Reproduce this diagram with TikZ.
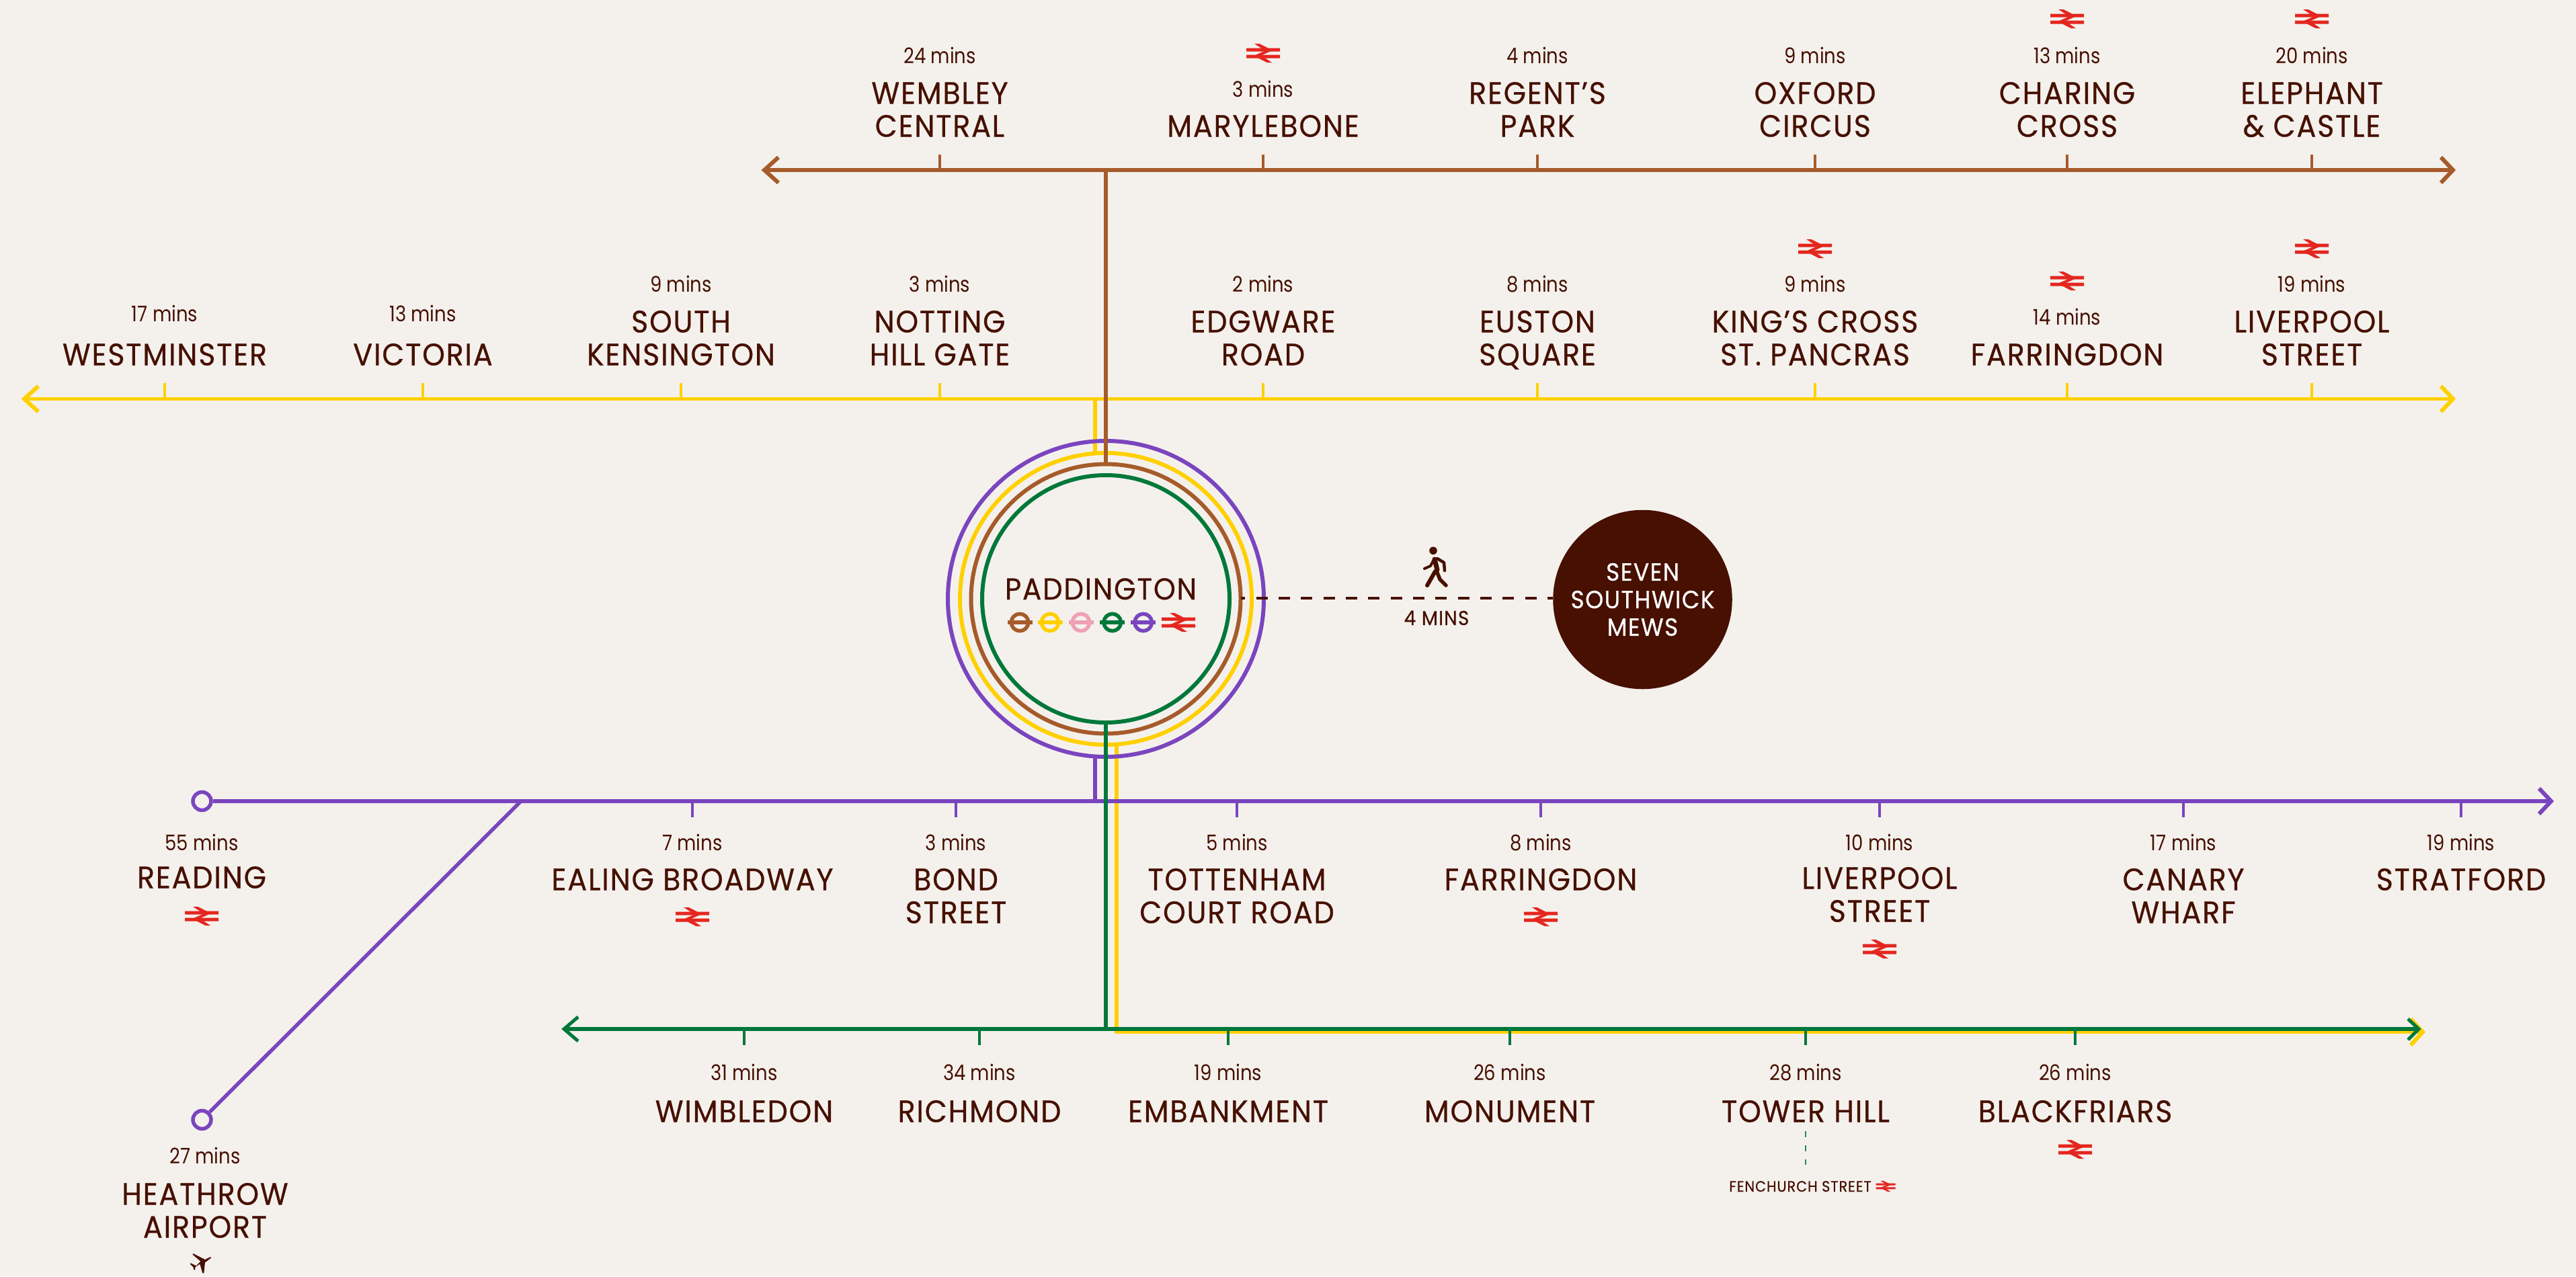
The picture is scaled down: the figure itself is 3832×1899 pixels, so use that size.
\documentclass[tikz,border=0pt]{standalone}
\usepackage{fontspec}
\setmainfont{Poppins}
\newfontfamily\namef{Poppins}[FakeStretch=0.93,LetterSpace=4,FakeBold=0.6]
\newfontfamily\minf{Poppins}[FakeStretch=0.86]
\definecolor{bgc}{HTML}{F4F1ED}
\definecolor{dk}{HTML}{471000}
\definecolor{brn}{HTML}{A65B2A}
\definecolor{ylw}{HTML}{FFD000}
\definecolor{pnk}{HTML}{EFA0B5}
\definecolor{grn}{HTML}{00783A}
\definecolor{prp}{HTML}{7A45BE}
\definecolor{rd}{HTML}{E4261F}
\tikzset{
 x=1pt,y=-1pt,
 lineS/.style={line width=5.5pt},
 tickS/.style={line width=4.5pt},
 headS/.style={line width=6pt,miter limit=10},
 ringS/.style={line width=6pt},
 nameS/.style={anchor=base,inner sep=0pt,text=dk,align=center,font=\namef\fontsize{46}{49}\selectfont},
 minS/.style={anchor=base,inner sep=0pt,text=dk,font=\minf\fontsize{32}{32}\selectfont},
 railpic/.pic={
  \fill[rd] (-25,-7.5) rectangle (25,-2.5) (-25,2.5) rectangle (25,7.5);
  \fill[rd] (-13,-14) -- (-5.5,-14) -- (14,-4) -- (-3,3.5) -- (13,14) -- (5.5,14) -- (-14,4) -- (3,-3.5) -- cycle;
 },
 roundel/.pic={
  \draw[#1,line width=5.5pt] (0,0) circle (12.7);
  \fill[#1] (-18.5,-2.8) rectangle (18.5,2.8);
 },
}
\newcommand\stn[6]{%
 \node[minS] (m#1) at (#2,#3+11) {#4};
 \node[nameS] (n#1) at (#2,#5+17.5) {#6};
}
\newcommand\stnn[6]{%
 \node[minS] (m#1) at (#2,#3+11) {#4};
 \node[nameS] (n#1) at (#2,#5+17.5+49) {#6};
}
\newcommand\rail[3]{\pic (r#1) at (#2,#3) {railpic};}
\newcommand\uptick[3]{\draw[tickS,#1] (#2,#3) -- ++(0,-23);}
\newcommand\dntick[3]{\draw[tickS,#1] (#2,#3) -- ++(0,24);}
\begin{document}
\begin{tikzpicture}
\useasboundingbox (0,0) rectangle (3832,1899);
\fill[bgc] (0,0) rectangle (3832,1899);
\coordinate (hub) at (1645,891);
% yellow line
\coordinate (yl) at (36,593.5); \coordinate (yr) at (3649,593.5);
\draw[lineS,ylw] (yl) -- (yr);
\draw[headS,ylw] (57,574.5) -- (yl) -- (57,612.5);
\draw[headS,ylw] (3631,574.5) -- (yr) -- (3631,612.5);
\draw[lineS,ylw] (1629,593.5) -- (1629,674);
\foreach \x in {245,629,1013,1398,1879,2287,2700,3075,3439} {\uptick{ylw}{\x}{593}}
% yellow lower line
\coordinate (yb) at (3604,1535.5);
\draw[lineS,ylw] (1661,1108) -- (1661,1535.5) -- (yb);
\draw[headS,ylw] (3586,1516) -- (yb) -- (3586,1555);
% rings
\draw[ringS,ylw] (hub) circle (217);
\draw[ringS,prp] (hub) circle (235);
\draw[lineS,prp] (1629,1127) -- (1629,1192);
% purple line
\node[circle,draw=prp,line width=5.5pt,fill=bgc,minimum size=27pt,inner sep=0pt] (reading) at (300.5,1192) {};
\node[circle,draw=prp,line width=5.5pt,fill=bgc,minimum size=27pt,inner sep=0pt] (heathrow) at (300.5,1666) {};
\coordinate (pr) at (3795,1192);
\coordinate (junc) at (775,1192);
\draw[lineS,prp] (reading) -- (pr);
\draw[lineS,prp] (heathrow) -- (junc);
\draw[headS,prp] (3777,1173) -- (pr) -- (3777,1211);
\foreach \x in {1030,1422,1840,2292,2796,3248,3661} {\dntick{prp}{\x}{1192}}
% brown
\coordinate (bl) at (1137,253); \coordinate (br) at (3649,253);
\draw[lineS,brn] (bl) -- (br);
\draw[headS,brn] (1158,234) -- (bl) -- (1158,272);
\draw[headS,brn] (3631,234) -- (br) -- (3631,272);
\foreach \x in {1398,1879,2287,2700,3075,3439} {\uptick{brn}{\x}{253}}
\draw[ringS,brn] (hub) circle (200.5);
\draw[lineS,brn] (1645,253) -- (1645,691);
% green
\coordinate (gl) at (839,1531); \coordinate (gr) at (3598,1531);
\draw[ringS,grn] (hub) circle (184);
\draw[lineS,grn] (1645,1075) -- (1645,1531);
\draw[lineS,grn] (gl) -- (gr);
\draw[headS,grn,line width=5pt] (860,1513) -- (gl) -- (860,1549);
\draw[headS,grn,line width=5pt] (3582,1516) -- (gr) -- (3582,1547);
\foreach \x in {1107,1457,1827,2246,2686,3087} {\dntick{grn}{\x}{1531}}
\draw[grn!85!white,line width=2.2pt,dash pattern=on 9pt off 12pt] (2686,1683) -- (2686,1733);
% top row
\stnn{wembley}{1398}{83}{24 mins}{137}{WEMBLEY\\CENTRAL}
\stn{maryl}{1879}{133}{3 mins}{186}{MARYLEBONE}
\rail{maryl}{1879}{79}
\stnn{regent}{2287}{83}{4 mins}{137}{REGENT’S\\PARK}
\stnn{oxford}{2700}{83}{9 mins}{137}{OXFORD\\CIRCUS}
\stnn{charing}{3075}{83}{13 mins}{137}{CHARING\\CROSS}
\rail{charing}{3075}{28}
\stnn{elephant}{3439}{83}{20 mins}{137}{ELEPHANT\\\& CASTLE}
\rail{elephant}{3439}{28}
% yellow row
\stn{westm}{245}{467}{17 mins}{526}{WESTMINSTER}
\stn{victoria}{629}{467}{13 mins}{526}{VICTORIA}
\stnn{southk}{1013}{423}{9 mins}{477}{SOUTH\\KENSINGTON}
\stnn{notting}{1398}{423}{3 mins}{477}{NOTTING\\HILL GATE}
\stnn{edgware}{1879}{423}{2 mins}{477}{EDGWARE\\ROAD}
\stnn{euston}{2287}{423}{8 mins}{477}{EUSTON\\SQUARE}
\stnn{kings}{2700}{423}{9 mins}{477}{KING’S CROSS\\ST. PANCRAS}
\rail{kings}{2700}{370}
\stn{farr}{3075}{472}{14 mins}{526}{FARRINGDON}
\rail{farr}{3075}{418}
\stnn{liv}{3439}{423}{19 mins}{477}{LIVERPOOL\\STREET}
\rail{liv}{3439}{370}
% purple row
\stn{read}{300}{1254}{55 mins}{1304}{READING}
\rail{read}{300}{1363}
\stnn{heath}{305}{1720}{27 mins}{1775}{HEATHROW\\AIRPORT}
\stn{ealing}{1030}{1254}{7 mins}{1307}{EALING BROADWAY}
\rail{ealing}{1030}{1364}
\stnn{bond}{1422}{1254}{3 mins}{1307}{BOND\\STREET}
\stnn{tott}{1840}{1254}{5 mins}{1307}{TOTTENHAM\\COURT ROAD}
\stn{farrb}{2292}{1254}{8 mins}{1307}{FARRINGDON}
\rail{farrb}{2292}{1364}
\stnn{livb}{2796}{1254}{10 mins}{1305}{LIVERPOOL\\STREET}
\rail{livb}{2796}{1412}
\stnn{canary}{3248}{1254}{17 mins}{1307}{CANARY\\WHARF}
\stn{stratf}{3661}{1254}{19 mins}{1307}{STRATFORD}
% green row
\stn{wimb}{1107}{1596}{31 mins}{1652}{WIMBLEDON}
\stn{rich}{1457}{1596}{34 mins}{1652}{RICHMOND}
\stn{emb}{1827}{1596}{19 mins}{1652}{EMBANKMENT}
\stn{mon}{2246}{1596}{26 mins}{1652}{MONUMENT}
\stn{tower}{2686}{1596}{28 mins}{1652}{TOWER HILL}
\stn{black}{3087}{1596}{26 mins}{1652}{BLACKFRIARS}
\rail{black}{3087}{1710}
\node[anchor=base,inner sep=0pt,text=dk,font=\namef\fontsize{22.5}{22.5}\selectfont] (fen) at (2678,1773) {FENCHURCH STREET};
\pic[scale=.58] (rfen) at (2805,1765) {railpic};
% plane
\begin{scope}[shift={(260,1850)},scale=1/3]
\fill[dk] (160,60) -- (135,72) -- (82,45) -- (80,50) -- (115,80) -- (95,100) -- (72,88) -- (68,92) -- (82,105) -- (85,118) -- (90,118) -- (92,105) -- (112,92) -- (124,133) -- (130,133) -- (135,85) -- (162,65) -- cycle;
\end{scope}
% centre
\node[anchor=base,inner sep=0pt,text=dk,font=\namef\fontsize{45}{49}\selectfont] (padd) at (1637.5,892) {PADDINGTON};
\pic at (1517,926) {roundel=brn};
\pic at (1562,926) {roundel=ylw};
\pic at (1608,926) {roundel=pnk};
\pic at (1654.7,926) {roundel=grn};
\pic at (1700.7,926) {roundel=prp};
\rail{padd}{1753}{926}
% walk
\node[circle,fill=dk,minimum size=266.5pt,inner sep=0pt,text=white,align=center,font=\namef\fontsize{37}{41}\selectfont] (seven) at (2443.5,892) {SEVEN\\SOUTHWICK\\MEWS};
\coordinate (walkstart) at (1846,890);
\draw[dk,line width=4pt,dash pattern=on 17pt off 16.33pt,dash phase=10.7pt] (walkstart) -- (seven.west |- walkstart);
\node[anchor=base,inner sep=0pt,text=dk,font=\namef\fontsize{30}{32}\selectfont] (four) at (2137,930) {4 MINS};
\begin{scope}[dk,line cap=round,line join=round]
\fill (2132,819.3) circle (5.8);
\draw[line width=7pt] (2134,832) -- (2138,848);
\draw[line width=4pt] (2132.7,833) -- (2128,842) -- (2119,846);
\draw[line width=4.5pt] (2138,831) -- (2148,837) -- (2149,849);
\draw[line width=6pt] (2135,850) -- (2123,871);
\draw[line width=5.5pt] (2138,852) -- (2142,862) -- (2151,871);
\end{scope}
\end{tikzpicture}
\end{document}
